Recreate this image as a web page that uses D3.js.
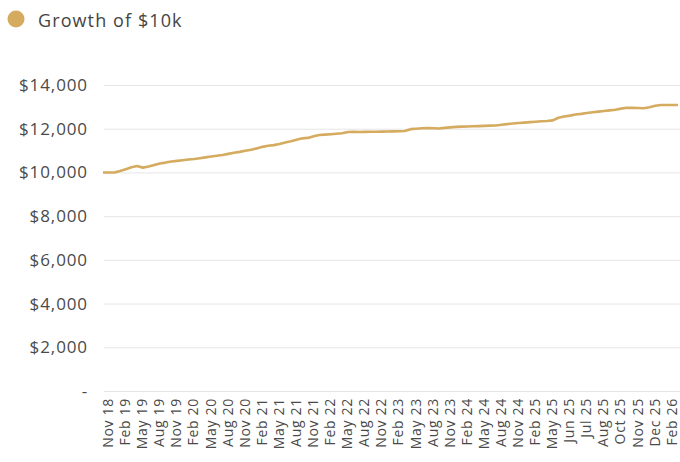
<!DOCTYPE html>
<html>
<head>
<meta charset="utf-8">
<script src="https://cdn.jsdelivr.net/npm/d3@7"></script>
<style>
  body { margin: 0; background: #fff; }
  svg text { font-family: "Open Sans", "Noto Sans", sans-serif; }
</style>
</head>
<body>
<svg width="680" height="462"></svg>
<script>
let svg = d3.select('svg');

const seriesName = 'Growth of $10k';
const lineColor = '#d5ab5f';

// tick labels, one every 3 points (first at point 1)
const tickLabels = ['Nov 18', 'Feb 19', 'May 19', 'Aug 19', 'Nov 19', 'Feb 20', 'May 20', 'Aug 20', 'Nov 20',
    'Feb 21', 'May 21', 'Aug 21', 'Nov 21', 'Feb 22', 'May 22', 'Aug 22', 'Nov 22', 'Feb 23', 'May 23',
    'Aug 23', 'Nov 23', 'Feb 24', 'May 24', 'Aug 24', 'Nov 24', 'Feb 25', 'May 25', 'Jun 25', 'Jul 25',
    'Aug 25', 'Oct 25', 'Nov 25', 'Dec 25', 'Feb 26'];

// value of $10k over time
const growth = [
    10000, 10000, 10000, 10064, 10150, 10240, 10290, 10220, 10270, 10340,
    10410, 10450, 10500, 10530, 10560, 10590, 10615, 10650, 10690, 10725,
    10760, 10800, 10850, 10900, 10940, 10990, 11040, 11100, 11170, 11220,
    11250, 11300, 11370, 11430, 11500, 11560, 11580, 11650, 11715, 11730,
    11750, 11770, 11790, 11850, 11860, 11850, 11855, 11860, 11860, 11865,
    11870, 11880, 11885, 11895, 11980, 12000, 12020, 12032, 12020, 12010,
    12040, 12060, 12085, 12095, 12100, 12110, 12120, 12130, 12140, 12150,
    12180, 12210, 12240, 12260, 12280, 12300, 12320, 12340, 12355, 12380,
    12500, 12560, 12600, 12650, 12680, 12720, 12750, 12780, 12810, 12840,
    12870, 12920, 12960, 12955, 12945, 12935, 12980, 13050, 13085, 13085,
    13085, 13085
];

const yTicks = [0, 2000, 4000, 6000, 8000, 10000, 12000, 14000];

let x = d3.scaleLinear().domain([0, growth.length - 1]).range([103, 678]);
let y = d3.scaleLinear().domain([0, 14000]).range([391, 85]);

// legend
svg.append('circle').attr('cx', 16).attr('cy', 19).attr('r', 8.5).attr('fill', lineColor);
svg.append('text').attr('x', 38).attr('y', 27)
    .attr('fill', '#444').style('font-size', '18px')
    .style('letter-spacing', '1.1px')
    .text(seriesName);

// y axis + grid
let yAxis = svg.append('g')
    .attr('transform', 'translate(104,0)')
    .call(d3.axisLeft(y).tickValues(yTicks).tickSize(-576)
        .tickFormat(d => d === 0 ? '-' : '$' + d3.format(',')(d)));
yAxis.select('.domain').remove();
yAxis.selectAll('.tick line').attr('stroke', '#e6e6e6');
yAxis.selectAll('.tick text')
    .attr('x', -16)
    .attr('fill', '#4a4a4a')
    .style('font-size', '17px')
    .style('letter-spacing', '0.9px');

// x axis
let xAxis = svg.append('g')
    .attr('transform', 'translate(0,391)')
    .call(d3.axisBottom(x).tickValues(tickLabels.map((d, i) => 1 + 3 * i))
        .tickSize(0)
        .tickFormat((d, i) => tickLabels[i]));
xAxis.select('.domain').remove();
xAxis.selectAll('.tick text')
    .attr('transform', 'rotate(-90)')
    .attr('x', -7)
    .attr('y', -1)
    .attr('dy', '0.35em')
    .style('text-anchor', 'end')
    .attr('fill', '#4a4a4a')
    .style('font-size', '14px')
    .style('letter-spacing', '0.7px');

// line
svg.append('path')
    .datum(growth)
    .attr('fill', 'none')
    .attr('stroke', lineColor)
    .attr('stroke-width', 2.6)
    .attr('stroke-linejoin', 'round')
    .attr('d', d3.line().x((d, i) => x(i)).y(d => y(d)));
</script>
</body>
</html>
